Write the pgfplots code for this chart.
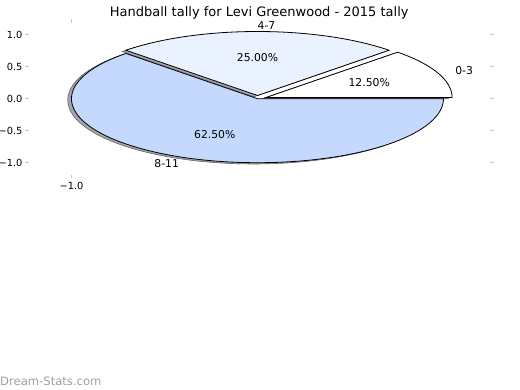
\documentclass[border=0pt]{standalone}
\usepackage{pgfplots}
\pgfplotsset{compat=1.18}
\usepackage{fontspec}
\setmainfont{DejaVu Sans}
\definecolor{wA}{HTML}{FFFFFF}
\definecolor{wB}{HTML}{EAF1FF}
\definecolor{wC}{HTML}{C5D9FF}
\definecolor{shad}{HTML}{A4A6AA}

% wedge geometry: #1 start angle, #2 percent, #3 explode
\newcommand\pieGeom[3]{%
  \pgfmathsetmacro\pa{#1}%
  \pgfmathsetmacro\pb{#1+3.6*#2}%
  \pgfmathsetmacro\pmid{(\pa+\pb)/2}%
  \pgfmathsetmacro\pcx{#3*cos(\pmid)}%
  \pgfmathsetmacro\pcy{#3*sin(\pmid)}%
  \pgfmathsetmacro\psx{\pcx+cos(\pa)}%
  \pgfmathsetmacro\psy{\pcy+sin(\pa)}%
  \pgfmathsetmacro\plx{\pcx+0.6*cos(\pmid)}%
  \pgfmathsetmacro\ply{\pcy+0.6*sin(\pmid)}%
  \pgfmathsetmacro\pnx{\pcx+1.1*cos(\pmid)}%
  \pgfmathsetmacro\pny{\pcy+1.1*sin(\pmid)}%
  \pgfmathsetmacro\pcos{cos(\pmid)}%
  \ifdim\pcos pt>-0.001pt \def\panchor{west}\else\def\panchor{east}\fi
}
\newcommand\pieShadow[3]{%
  \pieGeom{#1}{#2}{#3}%
  \pgfmathsetmacro\qcx{\pcx-0.02}\pgfmathsetmacro\qcy{\pcy-0.02}%
  \pgfmathsetmacro\qsx{\psx-0.02}\pgfmathsetmacro\qsy{\psy-0.02}%
  \edef\pdo{\noexpand\filldraw[fill=shad, draw=gray!80!black, line width=0.6pt] (axis cs:\qcx,\qcy) -- (axis cs:\qsx,\qsy)
    arc[start angle=\pa, end angle=\pb, x radius=1, y radius=1] -- cycle;}%
  \pdo
}
\newcommand\pieWedge[5]{%
  \pieGeom{#1}{#2}{#3}%
  \edef\pdo{\noexpand\filldraw[fill=#4, draw=black, line width=0.8pt, line join=miter]
    (axis cs:\pcx,\pcy) -- (axis cs:\psx,\psy)
    arc[start angle=\pa, end angle=\pb, x radius=1, y radius=1] -- cycle;
    \noexpand\node[font=\noexpand\fontsize{10.8}{12}\noexpand\selectfont] at (axis cs:\plx,\ply) {#2\noexpand\%};
    \noexpand\node[anchor=\panchor, inner sep=0pt, font=\noexpand\fontsize{10.8}{12}\noexpand\selectfont] at (axis cs:\pnx,\pny) {#5};}%
  \pdo
}

\begin{document}
\begin{tikzpicture}[x=1pt,y=1pt]
\path[use as bounding box] (0,0) rectangle (520,390);
\begin{axis}[
  at={(28.5pt,215pt)}, anchor=south west,
  scale only axis, width=461.5pt, height=152pt,
  xmin=-1.231, xmax=1.25, ymin=-1.192, ymax=1.183,
  clip=false,
  axis line style={draw=none},
  xtick={-1}, xticklabels={−1.0},
  ytick={-1,-0.5,0,0.5,1},
  yticklabels={−1.0,−0.5,0.0,0.5,1.0},
  tick style={draw=gray!45, line width=1.2pt},
  major tick length=3.5pt, tick align=outside,
  ticklabel style={font=\fontsize{9.8}{12}\selectfont},
  yticklabel style={xshift=1pt},
  title={Handball tally for Levi Greenwood - 2015 tally},
  title style={font=\fontsize{13}{15}\selectfont, yshift=-5.5pt},
]
% values: 0-3 12.5%, 4-7 25%, 8-11 62.5%
\pieShadow{0}{12.50}{0.05}
\pieShadow{45}{25.00}{0.05}
\pieShadow{135}{62.50}{0}
\pieWedge{0}{12.50}{0.05}{wA}{0-3}
\pieWedge{45}{25.00}{0.05}{wB}{4-7}
\pieWedge{135}{62.50}{0}{wC}{8-11}
\end{axis}
\node[anchor=south west, text=gray!75, font=\fontsize{11.6}{13}\selectfont, inner sep=0pt] at (0,4) {Dream-Stats.com};
\end{tikzpicture}
\end{document}
